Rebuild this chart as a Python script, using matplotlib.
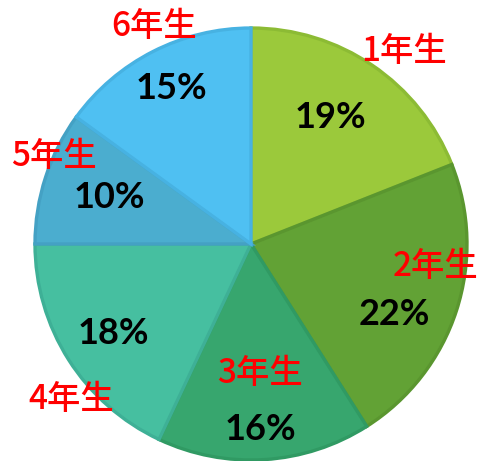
import numpy as np
import matplotlib
matplotlib.use('Agg')
import matplotlib.pyplot as plt

# grade shares, clockwise from 12 o'clock
grades = ['1年生', '2年生', '3年生', '4年生', '5年生', '6年生']
shares = [19, 22, 16, 18, 10, 15]

face_colors = ['#9BC93B', '#62A235', '#37A66E', '#46BFA0', '#4BADCF', '#4FC0F2']
edge_colors = ['#8CBB34', '#5A962F', '#309A63', '#3EB096', '#44A1C4', '#47B2E2']

# label placement as (radius fraction, angle in degrees)
pct_pos = [(0.69, 58), (0.74, -26), (0.86, -87), (0.76, -147), (0.69, 162), (0.81, 117)]
name_pos = [(1.14, 51.6), (0.86, -7), (0.60, -86), (1.10, -139), (1.00, 156), (1.10, 114)]

W, H = 484, 461
cx, cy, R = 251, 244, 216

fig = plt.figure(figsize=(W / 100, H / 100), dpi=100)
ax = fig.add_axes([0, 0, 1, 1])

wedges, _ = ax.pie(shares, startangle=90, counterclock=False, radius=1.0,
                   colors=face_colors,
                   wedgeprops=dict(linewidth=2.4, joinstyle='miter'))
for w, ec in zip(wedges, edge_colors):
    w.set_edgecolor(ec)

# pie() resets the limits, so place the circle afterwards
ax.set_aspect('auto')
ax.set_xlim(-cx / R, (W - cx) / R)
ax.set_ylim(-(H - cy) / R, cy / R)
ax.axis('off')

for s, (r, a) in zip(shares, pct_pos):
    t = np.deg2rad(a)
    ax.text(r * np.cos(t), r * np.sin(t), f'{s}%', ha='center', va='center',
            fontsize=26, fontweight='bold', color='black',
            family=['Lato', 'DejaVu Sans'])

for g, (r, a) in zip(grades, name_pos):
    t = np.deg2rad(a)
    ax.text(r * np.cos(t), r * np.sin(t), g, ha='center', va='center',
            fontsize=24, color='#FF0000', style='italic', fontweight='medium',
            family=['Noto Sans CJK JP', 'DejaVu Sans'])

fig.savefig('out.png', dpi=100, facecolor='white')
